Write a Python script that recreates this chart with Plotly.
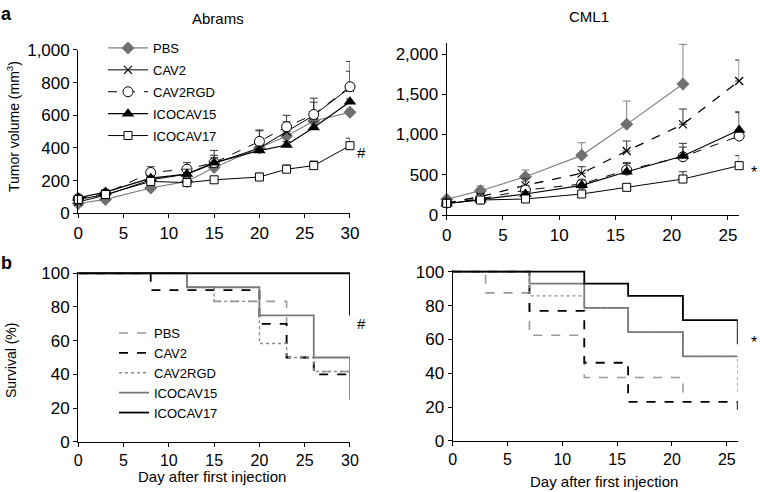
import plotly.graph_objects as go

# ---------------- data ----------------
groups = ["PBS", "CAV2", "CAV2RGD", "ICOCAV15", "ICOCAV17"]

# Abrams tumor volume (mm3)
ab_days = [0, 3, 8, 12, 15, 20, 23, 26, 30]
ab_vol = {
    "PBS":      [60, 85, 155, 195, 280, 400, 473, 565, 618],
    "CAV2":     [70, 110, 205, 240, 305, 400, 500, 600, 770],
    "CAV2RGD":  [90, 120, 250, 270, 310, 440, 530, 605, 775],
    "ICOCAV15": [95, 130, 215, 240, 310, 384, 418, 526, 683],
    "ICOCAV17": [85, 115, 195, 188, 205, 222, 270, 292, 414],
}
ab_err = {
    "PBS":      [20, 10, 20, 20, 30, 40, 40, 50, 20],
    "CAV2":     [30, 30, 25, 40, 50, 105, 60, 80, 100],
    "CAV2RGD":  [15, 20, 35, 40, 75, 70, 70, 100, 155],
    "ICOCAV15": [15, 15, 15, 30, 30, 26, 22, 34, 17],
    "ICOCAV17": [10, 10, 15, 12, 10, 23, 25, 28, 46],
}

# CML1 tumor volume (mm3)
cml_days = [0, 3, 7, 12, 16, 21, 26]
cml_vol = {
    "PBS":      [196, 302, 476, 741, 1126, 1627, None],
    "CAV2":     [150, 228, 369, 518, 795, 1126, 1665],
    "CAV2RGD":  [150, 200, 310, 385, 559, 724, 981],
    "ICOCAV15": [140, 190, 261, 369, 538, 733, 1056],
    "ICOCAV17": [145, 186, 199, 261, 344, 447, 613],
}
cml_err = {
    "PBS":      [20, 58, 83, 157, 290, 493, 0],
    "CAV2":     [20, 30, 87, 82, 124, 191, 260],
    "CAV2RGD":  [20, 20, 40, 40, 80, 120, 290],
    "ICOCAV15": [20, 20, 30, 66, 112, 157, 227],
    "ICOCAV17": [15, 15, 15, 20, 29, 91, 124],
}

# Survival (%) step data
ab_surv_x = {
    "PBS":      [0, 12, 15, 23, 26, 30],
    "CAV2":     [0, 8, 20, 23, 26, 30],
    "CAV2RGD":  [0, 12, 15, 20, 23, 26, 30],
    "ICOCAV15": [0, 12, 20, 26, 30],
    "ICOCAV17": [0, 30],
}
ab_surv_y = {
    "PBS":      [100, 91.7, 83.3, 50, 41.7, 41.7],
    "CAV2":     [100, 90, 70, 50, 40, 40],
    "CAV2RGD":  [100, 91.7, 83.3, 58.3, 50, 41.7, 41.7],
    "ICOCAV15": [100, 91.7, 75, 50, 25],
    "ICOCAV17": [100, 75],
}
cml_surv_x = {
    "PBS":      [0, 3, 7, 12, 21],
    "CAV2":     [0, 7, 12, 16, 26],
    "CAV2RGD":  [0, 7, 12, 16, 21, 26],
    "ICOCAV15": [0, 7, 12, 16, 21, 26],
    "ICOCAV17": [0, 12, 16, 21, 26],
}
cml_surv_y = {
    "PBS":      [100, 87.5, 62.5, 37.5, 25],
    "CAV2":     [100, 76.9, 46.2, 23.1, 15.4],
    "CAV2RGD":  [100, 85.7, 78.6, 64.3, 50, 28.6],
    "ICOCAV15": [100, 92.9, 78.6, 64.3, 50, 50],
    "ICOCAV17": [100, 92.9, 85.7, 71.4, 57.1],
}

# ---------------- styles ----------------
FONT = "Liberation Sans, Arial, sans-serif"
GRAY = "#808080"
vol_style = {
    "PBS":      dict(line=dict(color=GRAY, width=1.2), marker=dict(symbol="diamond", size=10, color="#707070", line=dict(width=0))),
    "CAV2":     dict(line=dict(color="black", width=1), marker=dict(symbol="x-thin", size=8, color="black", line=dict(color="black", width=1.2))),
    "CAV2RGD":  dict(line=dict(color="black", width=1, dash="dash"), marker=dict(symbol="circle", size=10, color="white", line=dict(color="black", width=1))),
    "ICOCAV15": dict(line=dict(color="black", width=1.2), marker=dict(symbol="triangle-up", size=11, color="black", line=dict(width=0))),
    "ICOCAV17": dict(line=dict(color="black", width=1), marker=dict(symbol="square", size=8, color="white", line=dict(color="black", width=1))),
}
cml_line = {
    "PBS":      dict(color=GRAY, width=1.2),
    "CAV2":     dict(color="black", width=1.3, dash="dash"),
    "CAV2RGD":  dict(color="black", width=1, dash="dash"),
    "ICOCAV15": dict(color="black", width=1.2),
    "ICOCAV17": dict(color="black", width=1),
}
surv_line = {
    "PBS":      dict(color="#9a9a9a", width=1.6, dash="dash"),
    "CAV2":     dict(color="black", width=1.8, dash="dash"),
    "CAV2RGD":  dict(color="#8a8a8a", width=1.4, dash="dot"),
    "ICOCAV15": dict(color="#7a7a7a", width=1.8),
    "ICOCAV17": dict(color="black", width=1.8),
}

fig = go.Figure()

# Abrams volume
for g in groups:
    st = vol_style[g]
    fig.add_trace(go.Scatter(
        x=ab_days, y=ab_vol[g], name=g, mode="lines+markers",
        line=st["line"], marker=st["marker"], cliponaxis=False,
        error_y=dict(type="data", symmetric=False, array=ab_err[g],
                     arrayminus=[0] * len(ab_days), color="#333", thickness=1, width=4),
        xaxis="x", yaxis="y", legend="legend", legendgroup="a_" + g, showlegend=True,
    ))

# CML1 volume
for g in groups:
    st = vol_style[g]
    fig.add_trace(go.Scatter(
        x=cml_days, y=cml_vol[g], name=g, mode="lines+markers",
        line=cml_line[g], marker=st["marker"], cliponaxis=False,
        error_y=dict(type="data", symmetric=False, array=cml_err[g],
                     arrayminus=[0] * len(cml_days),
                     color=GRAY if g == "PBS" else "#333", thickness=1, width=4),
        xaxis="x2", yaxis="y2", showlegend=False,
    ))

# Abrams survival
for g in groups:
    fig.add_trace(go.Scatter(
        x=ab_surv_x[g], y=ab_surv_y[g], name=g, mode="lines",
        line=dict(shape="hv", **surv_line[g]),
        xaxis="x3", yaxis="y3", legend="legend2", showlegend=True,
    ))

# CML1 survival
for g in groups:
    fig.add_trace(go.Scatter(
        x=cml_surv_x[g], y=cml_surv_y[g], name=g, mode="lines",
        line=dict(shape="hv", **surv_line[g]),
        xaxis="x4", yaxis="y4", showlegend=False,
    ))

axis_common = dict(showgrid=False, zeroline=False, showline=True, linecolor="black",
                   linewidth=1.3, ticks="outside", ticklen=4, tickwidth=1.3,
                   tickcolor="black", automargin=False,
                   tickfont=dict(family=FONT, size=17, color="black"))
bottom_x = dict(axis_common)
bottom_x["tickfont"] = dict(family=FONT, size=16, color="black")

fig.update_layout(
    width=760, height=492,
    margin=dict(l=0, r=0, t=0, b=0, autoexpand=False),
    paper_bgcolor="white", plot_bgcolor="white",
    font=dict(family=FONT, color="black"),
    xaxis=dict(domain=[0.1030, 0.4605], range=[0, 30], dtick=5, anchor="y", **axis_common),
    yaxis=dict(domain=[0.5665, 0.8984], range=[0, 1000], dtick=200, tickformat=",d", anchor="x", **axis_common),
    xaxis2=dict(domain=[0.5878, 0.9726], range=[0, 26], dtick=5, anchor="y2", **axis_common),
    yaxis2=dict(domain=[0.5630, 0.9126], range=[0, 2137], tickvals=[0, 500, 1000, 1500, 2000], tickformat=",d", anchor="x2", **axis_common),
    xaxis3=dict(domain=[0.1030, 0.4605], range=[0, 30], dtick=5, anchor="y3", **bottom_x),
    yaxis3=dict(domain=[0.1022, 0.4480], range=[0, 101], tickvals=[0, 20, 40, 60, 80, 100], anchor="x3", **axis_common),
    xaxis4=dict(domain=[0.5957, 0.9707], range=[0, 26], dtick=5, anchor="y4", **bottom_x),
    yaxis4=dict(domain=[0.1037, 0.4512], range=[0, 101], tickvals=[0, 20, 40, 60, 80, 100], anchor="x4", **axis_common),
    legend=dict(x=103 / 760, y=1 - 33 / 492, xanchor="left", yanchor="top",
                bgcolor="rgba(0,0,0,0)", font=dict(family=FONT, size=13, color="black"),
                traceorder="grouped", tracegroupgap=2, itemwidth=40),
    legend2=dict(x=114 / 760, y=1 - 318 / 492, xanchor="left", yanchor="top",
                 bgcolor="rgba(0,0,0,0)", font=dict(family=FONT, size=13, color="black"),
                 tracegroupgap=0, itemwidth=30),
)

ann = [
    dict(text="<b>a</b>", x=7 / 760, y=1 - 14 / 492, size=18),
    dict(text="<b>b</b>", x=7 / 760, y=1 - 263 / 492, size=18),
    dict(text="Abrams", x=218 / 760, y=1 - 18 / 492, size=15),
    dict(text="CML1", x=589 / 760, y=1 - 17 / 492, size=15),
    dict(text="Day after first injection", x=212 / 760, y=1 - 476 / 492, size=15),
    dict(text="Day after first injection", x=604 / 760, y=1 - 481 / 492, size=15),
    dict(text="#", x=361 / 760, y=1 - 152 / 492, size=15),
    dict(text="*", x=754 / 760, y=1 - 172 / 492, size=16),
    dict(text="#", x=361 / 760, y=1 - 323 / 492, size=15),
    dict(text="*", x=754 / 760, y=1 - 342 / 492, size=16),
]
for a in ann:
    fig.add_annotation(text=a["text"], x=a["x"], y=a["y"], xref="paper", yref="paper",
                       showarrow=False, xanchor="center", yanchor="middle",
                       font=dict(family=FONT, size=a["size"], color="black"))

fig.add_annotation(text="Tumor volume (mm<sup>3</sup>)", x=13 / 760, y=1 - 127 / 492,
                   xref="paper", yref="paper", showarrow=False, textangle=-90,
                   xanchor="center", yanchor="middle", font=dict(family=FONT, size=14, color="black"))
fig.add_annotation(text="Survival (%)", x=11 / 760, y=1 - 361 / 492,
                   xref="paper", yref="paper", showarrow=False, textangle=-90,
                   xanchor="center", yanchor="middle", font=dict(family=FONT, size=14, color="black"))

fig.write_html("out.html", config={"displayModeBar": False},
               post_script="document.body.style.margin='0';document.body.style.padding='0';")
